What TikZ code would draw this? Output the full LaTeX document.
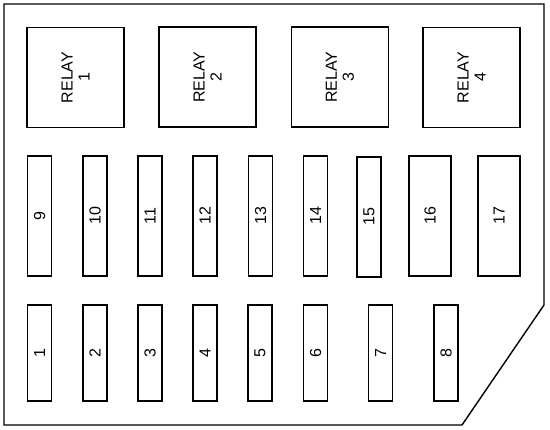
\documentclass[tikz,border=0pt]{standalone}
\usepackage{fontspec}
\setmainfont{Liberation Sans}
\begin{document}
\begin{tikzpicture}[x=1pt,y=-1pt,
  part/.style={draw=black, line width=1.4pt, fill=white, inner sep=0pt, outer sep=0pt, rotate=90, font=\fontsize{16}{17}\selectfont, align=center},
  relaybox/.style={part, minimum width=100pt, minimum height=97pt},
  fusetall/.style={part, minimum width=120pt, minimum height=24pt},
  fusewide/.style={part, minimum width=120pt, minimum height=42pt},
  fuseshort/.style={part, minimum width=96pt, minimum height=24pt}]
\useasboundingbox (0,0) rectangle (550,430);
\fill[white] (0,0) rectangle (550,430);
\draw[line width=1.4pt, line join=miter] (4,4) -- (544,4) -- (544,305) -- (462,425) -- (4,425) -- cycle;
% relays
\node[relaybox] (r1) at (75.5,77.5) {RELAY\\1};
\node[relaybox] (r2) at (207.5,77) {RELAY\\2};
\node[relaybox] (r3) at (340,77) {RELAY\\3};
\node[relaybox] (r4) at (471.5,77.5) {RELAY\\4};
% middle row
\node[fusetall] (f9) at (39.5,216) {9};
\node[fusetall] (f10) at (95,216) {10};
\node[fusetall] (f11) at (150,216) {11};
\node[fusetall] (f12) at (205,216) {12};
\node[fusetall] (f13) at (260.5,216) {13};
\node[fusetall] (f14) at (315.5,216) {14};
\node[fusetall] (f15) at (369,217) {15};
\node[fusewide] (f16) at (430,216) {16};
\node[fusewide] (f17) at (499,216) {17};
% bottom row
\node[fuseshort] (f1) at (39.5,353) {1};
\node[fuseshort] (f2) at (95,353) {2};
\node[fuseshort] (f3) at (150,353) {3};
\node[fuseshort] (f4) at (205,353) {4};
\node[fuseshort] (f5) at (260,353) {5};
\node[fuseshort] (f6) at (315.5,353) {6};
\node[fuseshort] (f7) at (380.5,353) {7};
\node[fuseshort] (f8) at (446,353) {8};
\end{tikzpicture}
\end{document}
